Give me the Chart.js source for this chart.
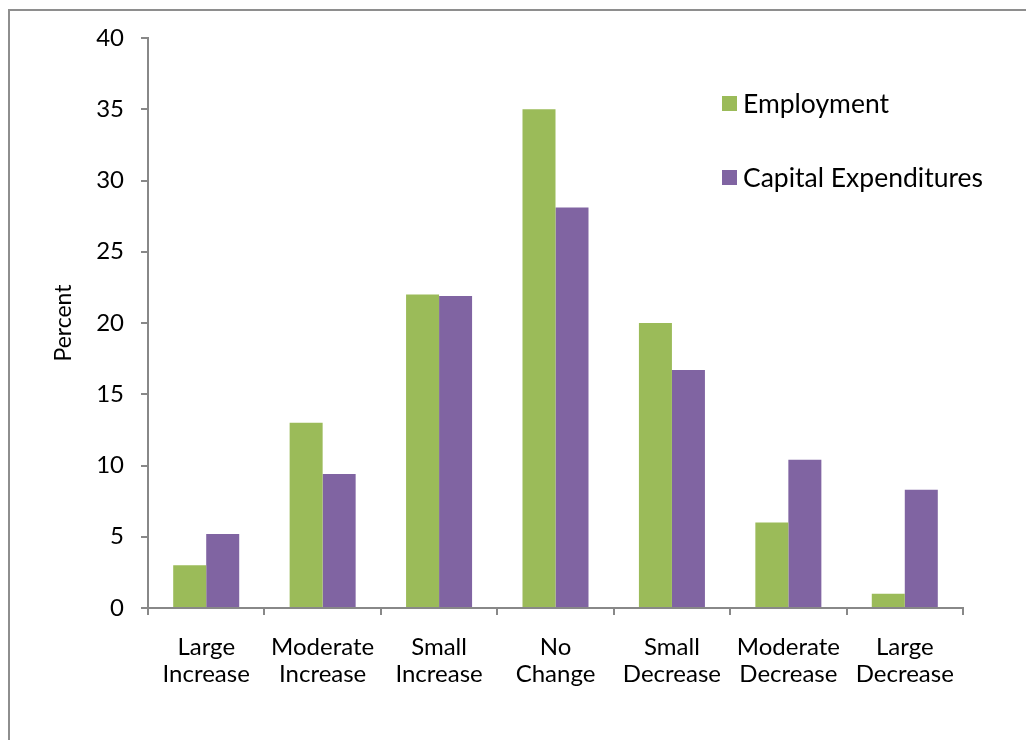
<!DOCTYPE html>
<html>
<head>
<meta charset="utf-8">
<script src="https://cdn.jsdelivr.net/npm/chart.js@4"></script>
<style>
    html, body { margin: 0; padding: 0; background: #fff; overflow: hidden; }
    #wrap { position: relative; width: 1026px; height: 740px; }
    #frame { position: absolute; left: 8px; top: 9px; width: 1100px; height: 800px; border: 2.5px solid #8e8e8e; box-sizing: border-box; }
    #chartBox { position: absolute; left: 0; top: 0; width: 1026px; height: 740px; }
    #legend { position: absolute; left: 722px; top: 86px; font-family: Lato, "Open Sans", sans-serif; font-size: 26.5px; color: #000; }
    .legend-item { display: flex; align-items: center; height: 34px; margin-bottom: 40px; }
    .legend-item span.sw { width: 15px; height: 15px; margin-right: 6px; display: inline-block; }
</style>
</head>
<body>
<div id="wrap">
    <div id="frame"></div>
    <div id="chartBox"><canvas id="barChart"></canvas></div>
    <div id="legend"></div>
</div>
<script>
    // chart data
    const categories = [
        ["Large", "Increase"],
        ["Moderate", "Increase"],
        ["Small", "Increase"],
        ["No", "Change"],
        ["Small", "Decrease"],
        ["Moderate", "Decrease"],
        ["Large", "Decrease"]
    ];
    const employment = [3, 13, 22, 35, 20, 6, 1];
    const capitalExpenditures = [5.2, 9.4, 21.9, 28.1, 16.7, 10.4, 8.3];
    const seriesNames = ["Employment", "Capital Expenditures"];
    const colors = ["#9bbb59", "#8064a2"];

    const axisColor = "#888888";
    const fontFamily = "Lato, 'Open Sans', sans-serif";

    new Chart(document.getElementById("barChart"), {
        type: "bar",
        data: {
            labels: categories,
            datasets: [{
                label: seriesNames[0],
                data: employment,
                backgroundColor: colors[0]
            }, {
                label: seriesNames[1],
                data: capitalExpenditures,
                backgroundColor: colors[1]
            }]
        },
        options: {
            responsive: true,
            maintainAspectRatio: false,
            animation: false,
            layout: { padding: { left: 47, top: 38, right: 63, bottom: 0 } },
            datasets: {
                bar: { barPercentage: 1, categoryPercentage: 0.567 }
            },
            plugins: {
                legend: { display: false },
                tooltip: { enabled: false }
            },
            scales: {
                x: {
                    grid: { drawOnChartArea: false, drawTicks: true, tickLength: 7, color: axisColor, lineWidth: 2 },
                    border: { color: axisColor, width: 2 },
                    ticks: { color: "#000", font: { family: fontFamily, size: 24, lineHeight: 1.15 }, padding: 18, maxRotation: 0, autoSkip: false },
                    afterFit: function (scale) { scale.height = 132; }
                },
                y: {
                    min: 0,
                    max: 40,
                    grid: { drawOnChartArea: false, drawTicks: true, tickLength: 7, color: axisColor, lineWidth: 2 },
                    border: { color: axisColor, width: 2 },
                    ticks: { stepSize: 5, color: "#000", font: { family: fontFamily, size: 24 }, padding: 17 },
                    title: { display: true, text: "Percent", color: "#000", font: { family: fontFamily, size: 23 }, padding: { top: 3, bottom: 4 } },
                    afterFit: function (scale) { scale.width = 101; }
                }
            }
        }
    });

    // legend placed inside the plot like the original
    const legendEl = document.getElementById("legend");
    seriesNames.forEach(function (name, i) {
        let item = document.createElement("div");
        item.className = "legend-item";
        let sw = document.createElement("span");
        sw.className = "sw";
        sw.style.background = colors[i];
        item.appendChild(sw);
        item.appendChild(document.createTextNode(name));
        legendEl.appendChild(item);
    });
</script>
</body>
</html>
